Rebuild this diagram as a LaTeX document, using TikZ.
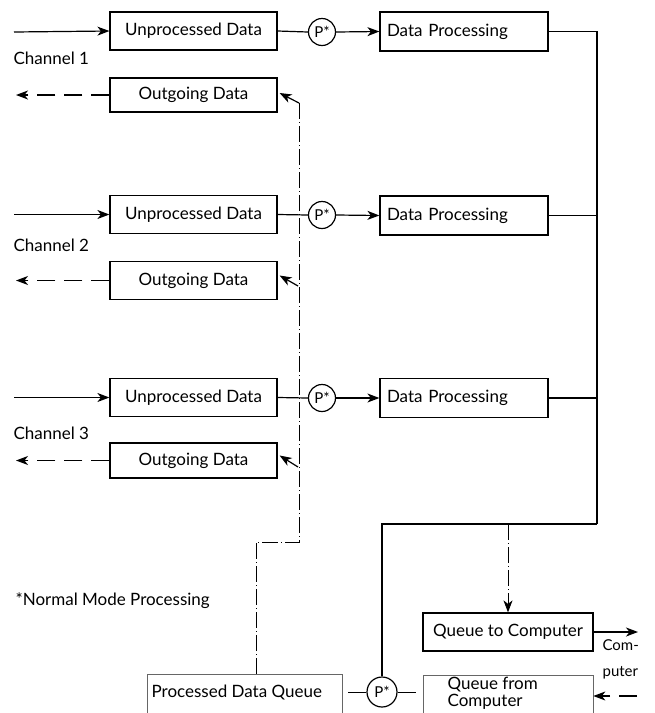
\documentclass[tikz,border=0pt]{standalone}
\usepackage{fontspec}
\setmainfont{Lato}
\usetikzlibrary{arrows.meta,calc}
\begin{document}
\begin{tikzpicture}[x=1pt,y=-1pt,
  font=\fontsize{17}{20}\selectfont,
  line width=1.2pt,
  tip/.style={-{Stealth[length=12pt,width=9pt,inset=3.5pt]}},
  box/.style={draw,line width=1.2pt,minimum width=167pt,minimum height=38pt,inner sep=2pt},
  dpbox/.style={draw,line width=1.2pt,minimum width=168pt,minimum height=39pt,inner sep=7pt,text width=154pt,align=left},
  circ/.style={draw,circle,line width=1.2pt,minimum size=27pt,inner sep=0pt,font=\fontsize{15}{18}\selectfont},
  longdash/.style={dash pattern=on 18pt off 9pt},
  dashdot/.style={line width=0.9pt,dash pattern=on 16pt off 3pt on 1pt off 3pt},
  faint/.style={draw=black!60,line width=0.7pt},
  lbl/.style={anchor=west,inner sep=0pt}
]
\useasboundingbox (0,0) rectangle (655,713);
\clip (0,0) rectangle (655,713);

% channel rows
\node[box] (up1) at (193.5,31) {Unprocessed Data};
\node[box,minimum height=34pt] (out1) at (193.5,95) {Outgoing Data};
\node[circ] (p1) at (322,32) {P*};
\node[dpbox] (dp1) at (464,31.5) {Data Processing};
\node[lbl] (ch1) at (13,58) {Channel 1};

\node[box] (up2) at (193.5,214.5) {Unprocessed Data};
\node[box] (out2) at (193.5,280.5) {Outgoing Data};
\node[circ] (p2) at (322,215) {P*};
\node[dpbox] (dp2) at (464,215.5) {Data Processing};
\node[lbl] (ch2) at (13,245) {Channel 2};

\node[box] (up3) at (193.5,397.5) {Unprocessed Data};
\node[box,minimum height=35pt] (out3) at (193.5,460.5) {Outgoing Data};
\node[circ] (p3) at (322,398) {P*};
\node[dpbox] (dp3) at (464,398) {Data Processing};
\node[lbl] (ch3) at (13,433) {Channel 3};

% input / output lines
\coordinate (in1) at (14,32);
\coordinate (in2) at (14,214.5);
\coordinate (in3) at (14,397.5);
\coordinate (o1) at (16,95);
\coordinate (o2) at (16,280.5);
\coordinate (o3) at (16,460.5);
\foreach \i in {1,2,3}{
  \draw[tip] (in\i) -- (up\i.west);
  \draw (up\i.east) -- (p\i.west);
  \draw[tip] (p\i.east) -- (dp\i.west);
  \draw[longdash,tip] (out\i.west) -- (o\i);
}

% right bus
\coordinate (bR) at (597,524);
\draw (dp1.east) -| (bR);
\draw (dp2.east) -- (dp2.east -| bR);
\draw (dp3.east) -- (dp3.east -| bR);

% bottom part
\node[circ,minimum size=30pt] (p4) at (382,692) {P*};
\draw (bR) -| (p4.north);

\node[box,minimum width=170pt,minimum height=38pt] (qtc) at (508,632) {Queue to Computer};
\draw[dashdot,tip] (qtc.north |- bR) -- (qtc.north);
\coordinate (comp) at (638,632);
\draw[tip] (qtc.east) -- (comp);
\node[anchor=north west,align=left,inner sep=0pt,font=\fontsize{15}{26}\selectfont] (comtxt) at (602,639) {Com-\\puter};

\node[faint,minimum width=170pt,minimum height=56pt] (qfc) at (508,703) {};
\node[anchor=north west,align=left,inner sep=0pt,font=\fontsize{17}{17}\selectfont] (qfct) at (447,677) {Queue from\\Computer};
\coordinate (compin) at (637,696);
\draw[longdash,tip] (compin) -- (compin -| qfc.east);

\node[faint,minimum width=195pt,minimum height=56pt] (pdq) at (244.5,702) {};
\node[lbl] (pdqt) at (151,692) {Processed Data Queue};
\draw[longdash,line width=0.8pt] (p4.west) -- (p4.west -| pdq.east);
\draw[longdash,line width=0.8pt] (p4.east) -- (p4.east -| qfc.west);

% control line (dash-dot)
\coordinate (c1) at (256,542);
\coordinate (c2) at (299,542);
\coordinate (t1) at (299,103);
\coordinate (t2) at (298,286);
\coordinate (t3) at (298,467);
\draw[dashdot] (c1 |- pdq.north) -- (c1) -- (c2) -- (t1);
\draw[tip] (t1) -- ($(out1.east)+(2,-2)$);
\draw[tip] (t2) -- ($(out2.east)+(2,-5)$);
\draw[tip] (t3) -- ($(out3.east)+(2,-5)$);

\node[lbl] (fn) at (15,601) {*Normal Mode Processing};
\end{tikzpicture}
\end{document}
